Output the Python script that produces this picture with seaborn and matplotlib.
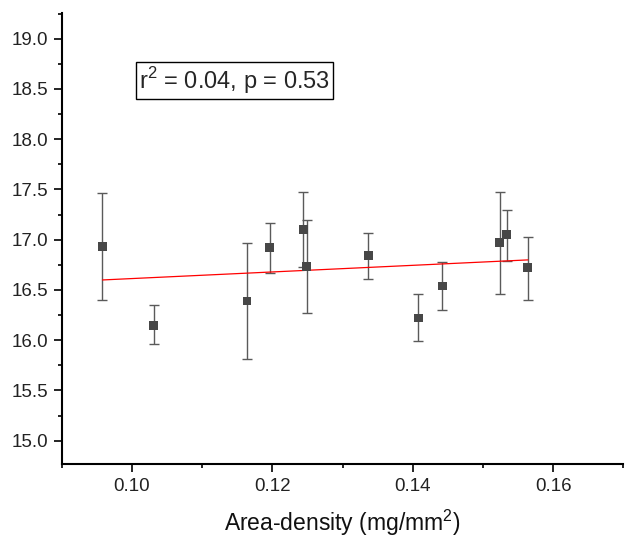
import matplotlib
matplotlib.use("Agg")
import matplotlib.pyplot as plt
import seaborn as sns
import numpy as np
import pandas as pd
from matplotlib.ticker import MultipleLocator

area_density = [0.0958, 0.1031, 0.1164, 0.1196, 0.1244, 0.1249,
                0.1337, 0.1408, 0.1442, 0.1524, 0.1534, 0.1564]
value = [16.93, 16.15, 16.39, 16.92, 17.10, 16.73,
         16.84, 16.22, 16.54, 16.97, 17.05, 16.72]
err_upper = [17.46, 16.35, 16.97, 17.17, 17.47, 17.20,
             17.07, 16.46, 16.78, 17.47, 17.30, 17.03]
err_lower = [16.40, 15.96, 15.81, 16.67, 16.73, 16.27,
             16.61, 15.99, 16.30, 16.46, 16.79, 16.40]
annotation = "r$^2$ = 0.04, p = 0.53"
x_label = "Area-density (mg/mm$^2$)"

df = pd.DataFrame({"x": area_density, "y": value,
                   "hi": err_upper, "lo": err_lower})

sns.set_theme(style="ticks")
plt.rcParams["font.family"] = ["Liberation Sans", "DejaVu Sans"]
plt.rcParams["mathtext.fontset"] = "custom"
plt.rcParams["mathtext.rm"] = "Liberation Sans"

fig = plt.figure(figsize=(6.37, 5.40), dpi=100)
ax = fig.add_axes([0.0969, 0.1402, 0.8816, 0.8352])

yerr = np.vstack([df["y"] - df["lo"], df["hi"] - df["y"]])
ax.errorbar(df["x"], df["y"], yerr=yerr, fmt="none", ecolor="#5a5a5a",
            elinewidth=1.0, capsize=3.3, capthick=1.0, zorder=2)
sns.regplot(data=df, x="x", y="y", ax=ax, scatter=False, ci=None,
            color="#ff0000", line_kws={"linewidth": 0.9, "zorder": 3})
sns.scatterplot(data=df, x="x", y="y", ax=ax, marker="s", s=40,
                color="#474747", edgecolor="none", zorder=4)

ax.set_xlim(0.09, 0.17)
ax.set_ylim(14.765, 19.253)
ax.xaxis.set_major_locator(MultipleLocator(0.02))
ax.xaxis.set_minor_locator(MultipleLocator(0.01))
ax.yaxis.set_major_locator(MultipleLocator(0.5))
ax.yaxis.set_minor_locator(MultipleLocator(0.25))
ax.xaxis.set_major_formatter(matplotlib.ticker.FormatStrFormatter("%.2f"))
ax.yaxis.set_major_formatter(matplotlib.ticker.FormatStrFormatter("%.1f"))

sns.despine(ax=ax)
for s in ["left", "bottom"]:
    ax.spines[s].set_linewidth(1.5)
    ax.spines[s].set_color("black")
ax.tick_params(axis="both", which="major", direction="out", length=5.5,
               width=1.2, labelsize=13.5, color="black", labelcolor="#222222")
ax.tick_params(axis="x", which="major", pad=4.5)
ax.tick_params(axis="y", which="major", pad=4)
ax.tick_params(axis="both", which="minor", direction="out", length=3,
               width=1.2, color="black")
ax.set_xlabel(x_label, fontsize=16.5, labelpad=9, color="#111111")
ax.set_ylabel("")

ax.text(0.138, 0.885, annotation, transform=ax.transAxes, fontsize=17,
        ha="left", va="top",
        bbox=dict(boxstyle="square,pad=0.12", facecolor="white",
                  edgecolor="black", linewidth=1.0))

fig.savefig("out.png", dpi=100)
